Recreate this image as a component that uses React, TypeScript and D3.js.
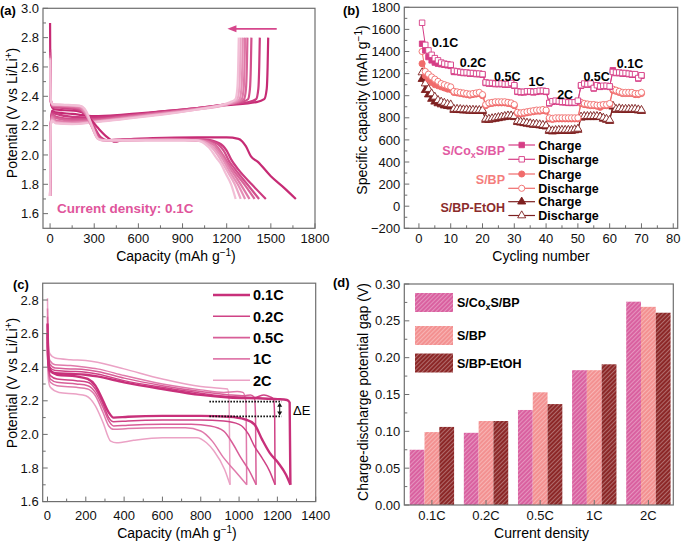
import React from "react";
import * as d3 from "d3";

const FONT = "'Liberation Sans', Arial, Helvetica, sans-serif";
const AXIS = "#6e6e6e";

// ---------- (a) galvanostatic profiles, cycles at 0.1C ----------
const aColors = ["#c62a74", "#cb3a7f", "#d24f8c", "#d86398", "#df79a7", "#e58fb6", "#eca7c6", "#f2bfd6"];
const aDischarge: number[][][] = [
  [[0, 2.9], [1, 2.7], [3, 2.45], [8, 2.34], [30, 2.31], [100, 2.305], [180, 2.3], [250, 2.27], [320, 2.19], [390, 2.12], [440, 2.09], [500, 2.105], [700, 2.115], [1000, 2.12], [1200, 2.12], [1280, 2.11], [1330, 2.06], [1365, 1.99], [1410, 1.955], [1500, 1.855], [1590, 1.776], [1670, 1.7]],
  [[0, 2.72], [2, 2.5], [6, 2.36], [20, 2.325], [100, 2.32], [180, 2.31], [240, 2.28], [300, 2.19], [345, 2.12], [390, 2.1], [500, 2.105], [800, 2.11], [1050, 2.105], [1150, 2.08], [1200, 2.03], [1230, 1.97], [1280, 1.9], [1370, 1.8], [1466, 1.7]],
  [[0, 2.7], [2, 2.5], [6, 2.36], [20, 2.33], [100, 2.325], [180, 2.315], [235, 2.285], [295, 2.19], [340, 2.115], [385, 2.1], [500, 2.105], [800, 2.11], [1040, 2.105], [1130, 2.08], [1185, 2.02], [1215, 1.96], [1260, 1.9], [1340, 1.8], [1420, 1.7]],
  [[0, 2.68], [2, 2.5], [6, 2.37], [20, 2.335], [100, 2.33], [190, 2.32], [235, 2.29], [290, 2.19], [335, 2.11], [380, 2.1], [500, 2.105], [800, 2.105], [1030, 2.1], [1120, 2.07], [1175, 2.0], [1205, 1.95], [1250, 1.89], [1320, 1.8], [1390, 1.7]],
  [[0, 2.67], [2, 2.5], [6, 2.37], [20, 2.34], [100, 2.335], [195, 2.325], [235, 2.29], [285, 2.19], [330, 2.11], [370, 2.1], [500, 2.1], [800, 2.105], [1020, 2.1], [1110, 2.07], [1165, 2.0], [1195, 1.95], [1235, 1.89], [1295, 1.8], [1355, 1.7]],
  [[0, 2.66], [2, 2.5], [6, 2.37], [20, 2.34], [100, 2.338], [200, 2.33], [240, 2.29], [285, 2.19], [328, 2.11], [365, 2.1], [500, 2.1], [800, 2.105], [1010, 2.1], [1100, 2.06], [1155, 2.0], [1185, 1.95], [1225, 1.88], [1275, 1.8], [1325, 1.7]],
  [[0, 2.66], [2, 2.5], [6, 2.37], [20, 2.345], [100, 2.34], [200, 2.335], [240, 2.3], [285, 2.19], [325, 2.11], [360, 2.1], [500, 2.1], [800, 2.1], [1000, 2.1], [1090, 2.06], [1145, 1.99], [1175, 1.94], [1210, 1.88], [1255, 1.8], [1295, 1.7]],
  [[0, 2.65], [2, 2.5], [6, 2.37], [20, 2.345], [100, 2.342], [205, 2.335], [245, 2.3], [285, 2.2], [325, 2.11], [355, 2.1], [500, 2.1], [800, 2.1], [990, 2.1], [1080, 2.05], [1130, 1.98], [1160, 1.94], [1195, 1.87], [1230, 1.8], [1261, 1.7]],
];
const aCharge: number[][][] = [
  [[0, 1.72], [2, 2.0], [5, 2.2], [12, 2.3], [40, 2.29], [150, 2.28], [300, 2.265], [500, 2.275], [800, 2.3], [1000, 2.32], [1200, 2.34], [1400, 2.36], [1455, 2.38], [1472, 2.45], [1478, 2.6], [1482, 2.8]],
  [[0, 1.72], [2, 2.0], [5, 2.2], [12, 2.29], [40, 2.28], [150, 2.26], [300, 2.255], [500, 2.27], [800, 2.3], [1000, 2.32], [1200, 2.345], [1350, 2.36], [1400, 2.38], [1415, 2.45], [1421, 2.6], [1425, 2.8]],
  [[0, 1.72], [2, 2.0], [5, 2.2], [12, 2.28], [40, 2.26], [150, 2.245], [300, 2.245], [500, 2.265], [800, 2.295], [1000, 2.32], [1200, 2.345], [1300, 2.36], [1345, 2.38], [1358, 2.45], [1364, 2.6], [1368, 2.8]],
  [[0, 1.72], [2, 2.0], [5, 2.2], [12, 2.27], [40, 2.25], [150, 2.235], [300, 2.238], [500, 2.26], [800, 2.29], [1000, 2.315], [1200, 2.345], [1280, 2.36], [1318, 2.38], [1331, 2.45], [1337, 2.6], [1341, 2.8]],
  [[0, 1.72], [2, 2.0], [5, 2.2], [12, 2.26], [40, 2.235], [150, 2.225], [300, 2.232], [500, 2.255], [800, 2.29], [1000, 2.315], [1200, 2.345], [1265, 2.36], [1302, 2.38], [1315, 2.45], [1321, 2.6], [1325, 2.8]],
  [[0, 1.72], [2, 2.0], [5, 2.2], [12, 2.25], [40, 2.225], [150, 2.218], [300, 2.228], [500, 2.25], [800, 2.285], [1000, 2.312], [1200, 2.345], [1250, 2.36], [1287, 2.38], [1300, 2.45], [1306, 2.6], [1310, 2.8]],
  [[0, 1.72], [2, 2.0], [5, 2.2], [12, 2.24], [40, 2.22], [150, 2.212], [300, 2.225], [500, 2.248], [800, 2.283], [1000, 2.31], [1200, 2.345], [1235, 2.36], [1272, 2.38], [1285, 2.45], [1291, 2.6], [1295, 2.8]],
  [[0, 1.72], [2, 2.0], [5, 2.2], [12, 2.235], [40, 2.215], [150, 2.21], [300, 2.222], [500, 2.245], [800, 2.28], [1000, 2.31], [1180, 2.345], [1222, 2.36], [1259, 2.38], [1272, 2.45], [1278, 2.6], [1282, 2.8]],
];
const aXTicks = [0, 300, 600, 900, 1200, 1500, 1800];
const aXMinor = [150, 450, 750, 1050, 1350, 1650];
const aYTicks = [1.6, 1.8, 2.0, 2.2, 2.4, 2.6, 2.8, 3.0];
const aYMinor = [1.7, 1.9, 2.1, 2.3, 2.5, 2.7, 2.9];

// ---------- (b) rate capability ----------
const bCoDis = [1660, 1460, 1410, 1370, 1340, 1320, 1300, 1290, 1285, 1280, 1225, 1220, 1215, 1210, 1210, 1205, 1205, 1200, 1200, 1195, 1120, 1115, 1115, 1110, 1110, 1110, 1105, 1105, 1115, 1095, 1040, 1035, 1035, 1040, 1040, 1035, 1040, 1045, 1045, 1040, 935, 950, 955, 950, 945, 945, 940, 940, 940, 955, 1095, 1110, 1105, 1110, 1070, 1095, 1085, 1090, 1090, 1085, 1215, 1210, 1210, 1205, 1205, 1200, 1195, 1195, 1160, 1185];
const bCoCha = [1470, 1410, 1350, 1320, 1300, 1290, 1285, 1280, 1275, 1270, 1215, 1215, 1210, 1205, 1205, 1200, 1200, 1195, 1195, 1190, 1115, 1110, 1110, 1105, 1105, 1105, 1100, 1100, 1105, 1090, 1035, 1030, 1030, 1035, 1035, 1030, 1035, 1040, 1040, 1035, 930, 945, 950, 945, 940, 940, 935, 935, 935, 950, 1090, 1105, 1100, 1105, 1065, 1090, 1080, 1085, 1085, 1080, 1230, 1205, 1205, 1200, 1200, 1195, 1190, 1190, 1155, 1180];
const bBpDis = [1400, 1220, 1195, 1170, 1150, 1130, 1110, 1100, 1090, 1080, 1040, 1035, 1030, 1025, 1020, 1015, 1020, 1025, 1030, 1010, 920, 935, 940, 945, 945, 945, 945, 940, 935, 920, 850, 845, 850, 855, 860, 865, 870, 870, 875, 870, 800, 795, 800, 800, 800, 800, 800, 800, 800, 800, 940, 930, 925, 920, 920, 915, 915, 920, 920, 930, 1060, 1050, 1040, 1030, 1030, 1030, 1030, 1020, 1020, 1030];
const bBpCha = [1290, 1180, 1150, 1120, 1100, 1090, 1080, 1070, 1060, 1055, 1030, 1025, 1020, 1015, 1010, 1005, 1010, 1015, 1020, 1000, 910, 925, 930, 935, 935, 935, 935, 930, 925, 910, 840, 835, 840, 845, 850, 855, 860, 860, 865, 860, 790, 785, 790, 790, 790, 790, 790, 790, 790, 790, 930, 920, 915, 910, 910, 905, 895, 910, 910, 920, 1050, 1040, 1030, 1020, 1020, 1020, 1020, 1010, 1010, 1020];
const bEtDis = [1210, 1110, 1060, 1020, 990, 960, 945, 935, 925, 920, 880, 880, 878, 875, 875, 872, 872, 870, 870, 870, 790, 790, 795, 800, 805, 810, 815, 820, 820, 815, 770, 765, 760, 755, 750, 745, 745, 740, 735, 730, 690, 685, 688, 690, 690, 690, 690, 690, 695, 700, 810, 815, 815, 815, 815, 815, 810, 800, 790, 780, 910, 880, 885, 880, 880, 880, 880, 880, 875, 870];
const bEtCha = [1150, 1050, 1010, 970, 945, 930, 920, 910, 905, 900, 870, 870, 868, 865, 865, 862, 862, 860, 860, 860, 780, 780, 785, 790, 795, 800, 805, 810, 810, 805, 760, 755, 750, 745, 740, 735, 735, 730, 725, 720, 680, 675, 678, 680, 680, 680, 680, 680, 685, 690, 800, 805, 805, 805, 805, 805, 810, 790, 780, 770, 900, 870, 875, 870, 870, 870, 870, 870, 865, 860];
const bRates = ["0.1C", "0.2C", "0.5C", "1C", "2C", "0.5C", "0.1C"];
const bRateAt = [[8.2, 1441], [17, 1260], [27.8, 1133], [37, 1088], [46, 966], [55.9, 1133], [66.4, 1250]];
const bXTicks = [0, 10, 20, 30, 40, 50, 60, 70, 80];
const bXMinor = [5, 15, 25, 35, 45, 55, 65, 75];
const bYTicks = [-200, 0, 200, 400, 600, 800, 1000, 1200, 1400, 1600, 1800];
const bYMinor = [-100, 100, 300, 500, 700, 900, 1100, 1300, 1500, 1700];

// ---------- (c) profiles at different rates ----------
const cRates = ["0.1C", "0.2C", "0.5C", "1C", "2C"];
const cColors = ["#c8307a", "#cf4286", "#d85e98", "#e07aab", "#eba2c5"];
const cDischarge: number[][][] = [
  [[0, 2.66], [4, 2.45], [15, 2.38], [50, 2.355], [150, 2.345], [210, 2.33], [250, 2.29], [290, 2.2], [320, 2.13], [345, 2.1], [420, 2.105], [600, 2.11], [800, 2.11], [950, 2.105], [1030, 2.09], [1080, 2.06], [1120, 1.97], [1160, 1.89], [1205, 1.83], [1245, 1.76], [1268, 1.7]],
  [[0, 2.58], [4, 2.42], [15, 2.35], [50, 2.33], [150, 2.32], [210, 2.31], [250, 2.27], [290, 2.18], [320, 2.1], [345, 2.075], [420, 2.08], [600, 2.085], [800, 2.085], [920, 2.08], [1000, 2.06], [1050, 2.0], [1080, 1.93], [1120, 1.86], [1160, 1.78], [1188, 1.7]],
  [[0, 2.55], [4, 2.4], [15, 2.33], [50, 2.31], [150, 2.3], [210, 2.29], [250, 2.25], [290, 2.16], [320, 2.08], [345, 2.05], [420, 2.055], [600, 2.06], [750, 2.06], [850, 2.05], [920, 2.02], [970, 1.94], [1010, 1.86], [1050, 1.79], [1089, 1.7]],
  [[0, 2.53], [4, 2.38], [15, 2.31], [50, 2.29], [150, 2.28], [210, 2.27], [250, 2.23], [290, 2.13], [320, 2.05], [345, 2.03], [420, 2.035], [600, 2.04], [720, 2.04], [800, 2.02], [860, 1.96], [920, 1.86], [980, 1.78], [1040, 1.7]],
  [[0, 2.5], [4, 2.33], [15, 2.28], [60, 2.25], [150, 2.24], [200, 2.23], [250, 2.17], [290, 2.07], [330, 1.96], [360, 1.95], [450, 1.965], [600, 1.98], [780, 1.98], [830, 1.95], [870, 1.9], [925, 1.79], [953, 1.7]],
];
const cCharge: number[][][] = [
  [[0, 2.6], [3, 2.45], [12, 2.38], [40, 2.365], [120, 2.36], [200, 2.355], [260, 2.345], [400, 2.31], [600, 2.27], [800, 2.235], [950, 2.22], [1100, 2.215], [1200, 2.21], [1250, 2.205], [1264, 2.19], [1268, 1.7]],
  [[0, 2.65], [3, 2.5], [12, 2.4], [40, 2.38], [120, 2.375], [200, 2.37], [260, 2.36], [400, 2.32], [600, 2.28], [800, 2.245], [950, 2.225], [1080, 2.22], [1130, 2.235], [1160, 2.225], [1180, 2.21], [1186, 2.1], [1188, 1.7]],
  [[0, 2.7], [3, 2.52], [12, 2.42], [40, 2.395], [120, 2.39], [200, 2.385], [260, 2.375], [400, 2.335], [600, 2.29], [800, 2.255], [950, 2.235], [1030, 2.23], [1060, 2.235], [1080, 2.22], [1086, 2.1], [1089, 1.7]],
  [[0, 2.75], [3, 2.55], [12, 2.44], [40, 2.415], [120, 2.41], [200, 2.4], [260, 2.39], [400, 2.35], [600, 2.3], [800, 2.265], [920, 2.25], [990, 2.255], [1020, 2.25], [1035, 2.2], [1038, 2.0], [1040, 1.7]],
  [[0, 2.81], [3, 2.6], [12, 2.48], [40, 2.455], [120, 2.445], [200, 2.44], [260, 2.43], [400, 2.39], [600, 2.33], [800, 2.285], [900, 2.275], [940, 2.27], [948, 2.2], [953, 1.7]],
];
const cDeltaE = [2.195, 2.107];
const cXTicks = [0, 200, 400, 600, 800, 1000, 1200, 1400];
const cXMinor = [100, 300, 500, 700, 900, 1100, 1300];
const cYTicks = [1.6, 1.8, 2.0, 2.2, 2.4, 2.6, 2.8];
const cYMinor = [1.7, 1.9, 2.1, 2.3, 2.5, 2.7];

// ---------- (d) potential gap ----------
const dCats = ["0.1C", "0.2C", "0.5C", "1C", "2C"];
const dCo = [0.075, 0.098, 0.129, 0.183, 0.276];
const dBp = [0.099, 0.114, 0.153, 0.183, 0.269];
const dEt = [0.106, 0.114, 0.137, 0.191, 0.261];
const dYTicks = [0, 0.05, 0.1, 0.15, 0.2, 0.25, 0.3];
const dYMinor = [0.025, 0.075, 0.125, 0.175, 0.225, 0.275];

const coColor = "#d63d86";
const bpColor = "#f06b6b";
const etColor = "#7e1f1f";

function Axes({ l, r, t, b, xPos, yPos, xt, xm, yt, ym, xf, yf, xDy }: any) {
  return (
    <g fontSize={13} fill="#111">
      {xm.map((v: any) => (
        <line key={"xm" + v} x1={xPos(v)} x2={xPos(v)} y1={b} y2={b - 3} stroke={AXIS} />
      ))}
      {xt.map((v: any) => (
        <g key={"xt" + v}>
          <line x1={xPos(v)} x2={xPos(v)} y1={b} y2={b - 5} stroke={AXIS} />
          <text x={xPos(v)} y={b + xDy} textAnchor="middle">{xf(v)}</text>
        </g>
      ))}
      {ym.map((v: any) => (
        <line key={"ym" + v} x1={l} x2={l + 3} y1={yPos(v)} y2={yPos(v)} stroke={AXIS} />
      ))}
      {yt.map((v: any) => (
        <g key={"yt" + v}>
          <line x1={l} x2={l + 5} y1={yPos(v)} y2={yPos(v)} stroke={AXIS} />
          <text x={l - 4} y={yPos(v) + 4.6} textAnchor="end">{yf(v)}</text>
        </g>
      ))}
      <rect x={l} y={t} width={r - l} height={b - t} fill="none" stroke={AXIS} strokeWidth={1.2} />
    </g>
  );
}

function PanelA() {
  const x = d3.scaleLinear().domain([-48, 1800]).range([43, 315]);
  const y = d3.scaleLinear().domain([1.5, 3.0]).range([228.3, 8.3]);
  const line = d3.line<number[]>().x((d) => x(d[0])).y((d) => y(d[1])).curve(d3.curveMonotoneX);
  const f1 = d3.format(".1f");
  return (
    <g>
      {aCharge.map((c, i) => (
        <path key={"c" + i} d={line(c) || ""} fill="none" stroke={aColors[i]} strokeWidth={2.2} />
      ))}
      {aDischarge.map((c, i) => (
        <path key={"d" + i} d={line(c) || ""} fill="none" stroke={aColors[i]} strokeWidth={2.2} />
      ))}
      <line x1={x(1540)} x2={x(1225)} y1={y(2.86)} y2={y(2.86)} stroke="#d6478c" strokeWidth={1.6} />
      <path d={`M${x(1205)},${y(2.86)} l9,-3.5 l0,7 z`} fill="#d6478c" />
      <text x={57} y={213} fontSize={13.5} fontWeight="bold" fill="#e0559c">Current density: 0.1C</text>
      <Axes l={43} r={315} t={8.3} b={228.3} xPos={x} yPos={y} xt={aXTicks} xm={aXMinor} yt={aYTicks} ym={aYMinor} xf={(v: number) => v} yf={f1} xDy={15} />
      <text x={176} y={261} fontSize={14} textAnchor="middle">Capacity (mAh g<tspan dy={-5} fontSize={10}>−1</tspan><tspan dy={5}>)</tspan></text>
      <text transform="translate(17,113) rotate(-90)" fontSize={14} textAnchor="middle">Potential (V vs Li/Li<tspan dy={-5} fontSize={10}>+</tspan><tspan dy={5}>)</tspan></text>
      <text x={0} y={15} fontSize={13} fontWeight="bold">(a)</text>
    </g>
  );
}

function PanelB() {
  const x = d3.scaleLinear().domain([-4.6, 81.4]).range([404.3, 677.7]);
  const y = d3.scaleLinear().domain([-200, 1800]).range([228.3, 7.3]);
  const line = d3.line<number>().x((_, i) => x(i + 1)).y((d) => y(d));
  const sq = d3.symbol(d3.symbolSquare, 30)();
  const ci = d3.symbol(d3.symbolCircle, 30)();
  const tr = d3.symbol(d3.symbolTriangle, 28)();
  const series = [
    { data: bEtCha, color: etColor, shape: tr, filled: true },
    { data: bEtDis, color: etColor, shape: tr, filled: false },
    { data: bBpCha, color: bpColor, shape: ci, filled: true },
    { data: bBpDis, color: bpColor, shape: ci, filled: false },
    { data: bCoCha, color: coColor, shape: sq, filled: true },
    { data: bCoDis, color: coColor, shape: sq, filled: false },
  ];
  const legend = [
    { label: "Charge", color: coColor, shape: sq, filled: true, y: 145 },
    { label: "Discharge", color: coColor, shape: sq, filled: false, y: 159.3 },
    { label: "Charge", color: bpColor, shape: ci, filled: true, y: 174 },
    { label: "Discharge", color: bpColor, shape: ci, filled: false, y: 188.3 },
    { label: "Charge", color: etColor, shape: tr, filled: true, y: 201.7 },
    { label: "Discharge", color: etColor, shape: tr, filled: false, y: 215.5 },
  ];
  return (
    <g>
      {series.map((s, k) => (
        <g key={k}>
          <path d={line(s.data) || ""} fill="none" stroke={s.color} strokeWidth={1} />
          {s.data.map((v, i) => (
            <path key={i} d={s.shape || ""} transform={`translate(${x(i + 1)},${y(v)})`} fill={s.filled ? s.color : "#fff"} stroke={s.color} strokeWidth={0.9} />
          ))}
        </g>
      ))}
      {bRates.map((r, i) => (
        <text key={i} x={x(bRateAt[i][0])} y={y(bRateAt[i][1])} fontSize={12.5} fontWeight="bold" textAnchor="middle">{r}</text>
      ))}
      {legend.map((g, i) => (
        <g key={i}>
          <line x1={508.3} x2={535} y1={g.y} y2={g.y} stroke={g.color} strokeWidth={1.2} />
          <path d={g.shape || ""} transform={`translate(521.7,${g.y})`} fill={g.filled ? g.color : "#fff"} stroke={g.color} strokeWidth={0.9} />
          <text x={538.3} y={g.y + 4.5} fontSize={12.5} fontWeight="bold">{g.label}</text>
        </g>
      ))}
      <g fontSize={12.5} fontWeight="bold" textAnchor="end">
        <text x={505} y={155} fill="#e25aa2">S/Co<tspan dy={3} fontSize={9}>x</tspan><tspan dy={-3}>S/BP</tspan></text>
        <text x={505} y={184} fill="#f47d7d">S/BP</text>
        <text x={505} y={212} fill="#8b2b2b">S/BP-EtOH</text>
      </g>
      <Axes l={404.3} r={677.7} t={7.3} b={228.3} xPos={x} yPos={y} xt={bXTicks} xm={bXMinor} yt={bYTicks} ym={bYMinor} xf={(v: number) => v} yf={d3.format("")} xDy={15} />
      <text x={541} y={261} fontSize={14} textAnchor="middle">Cycling number</text>
      <text transform="translate(367,110) rotate(-90)" fontSize={14} textAnchor="middle">Specific capacity (mAh g<tspan dy={-5} fontSize={10}>−1</tspan><tspan dy={5}>)</tspan></text>
      <text x={343} y={15} fontSize={13} fontWeight="bold">(b)</text>
    </g>
  );
}

function PanelC() {
  const x = d3.scaleLinear().domain([-25, 1400]).range([42.7, 315.7]);
  const y = d3.scaleLinear().domain([1.6, 2.9]).range([501.6, 283.2]);
  const line = d3.line<number[]>().x((d) => x(d[0])).y((d) => y(d[1])).curve(d3.curveMonotoneX);
  const f1 = d3.format(".1f");
  const order = [4, 3, 2, 1, 0];
  const ax = x(1212);
  return (
    <g>
      {order.map((i) => (
        <g key={i}>
          <path d={line(cDischarge[i]) || ""} fill="none" stroke={cColors[i]} strokeWidth={i === 0 ? 2.4 : 1.5} />
          <path d={line(cCharge[i]) || ""} fill="none" stroke={cColors[i]} strokeWidth={i === 0 ? 2.4 : 1.5} />
        </g>
      ))}
      {cDeltaE.map((v, i) => (
        <line key={i} x1={x(845)} x2={x(1222)} y1={y(v)} y2={y(v)} stroke="#111" strokeWidth={1.6} strokeDasharray="1.6,1.4" />
      ))}
      <line x1={ax} x2={ax} y1={y(cDeltaE[0]) + 2} y2={y(cDeltaE[1]) - 2} stroke="#111" strokeWidth={1} />
      <path d={`M${ax},${y(cDeltaE[0]) + 1} l-2.5,4 l5,0 z`} fill="#111" />
      <path d={`M${ax},${y(cDeltaE[1]) - 1} l-2.5,-4 l5,0 z`} fill="#111" />
      <text x={293} y={415} fontSize={13}>ΔE</text>
      {cRates.map((r, i) => (
        <g key={r}>
          <line x1={213} x2={250} y1={295 + i * 21.3} y2={295 + i * 21.3} stroke={cColors[i]} strokeWidth={i === 0 ? 2.6 : 1.6} />
          <text x={253} y={295 + i * 21.3 + 5.3} fontSize={14.5} fontWeight="bold">{r}</text>
        </g>
      ))}
      <Axes l={42.7} r={315.7} t={283.2} b={501.6} xPos={x} yPos={y} xt={cXTicks} xm={cXMinor} yt={cYTicks} ym={cYMinor} xf={(v: number) => v} yf={f1} xDy={18} />
      <text x={177} y={537.5} fontSize={14} textAnchor="middle">Capacity (mAh g<tspan dy={-5} fontSize={10}>−1</tspan><tspan dy={5}>)</tspan></text>
      <text transform="translate(17,383) rotate(-90)" fontSize={14} textAnchor="middle">Potential (V vs Li/Li<tspan dy={-5} fontSize={10}>+</tspan><tspan dy={5}>)</tspan></text>
      <text x={13} y={289} fontSize={13} fontWeight="bold">(c)</text>
    </g>
  );
}

function PanelD() {
  const x = d3.scaleBand().domain(dCats).range([404.3, 676]).paddingInner(0.18).paddingOuter(0.1);
  const y = d3.scaleLinear().domain([0, 0.3]).range([505, 284]);
  const groups = [
    { name: "co", data: dCo, color: "#d9609f" },
    { name: "bp", data: dBp, color: "#f39090" },
    { name: "et", data: dEt, color: "#8b2626" },
  ];
  const inner = d3.scaleBand().domain(groups.map((g) => g.name)).range([0, x.bandwidth()]);
  const mid = (c: string) => (x(c) || 0) + x.bandwidth() / 2;
  const legendY = [293, 326, 353.5];
  return (
    <g>
      <defs>
        {groups.map((g) => (
          <pattern key={g.name} id={"hatch-" + g.name} patternUnits="userSpaceOnUse" width={3} height={3} patternTransform="rotate(45)">
            <rect width={3} height={3} fill={g.color} />
            <line x1={0.5} y1={0} x2={0.5} y2={3} stroke="#fff" strokeOpacity={0.32} strokeWidth={1.1} />
          </pattern>
        ))}
      </defs>
      {groups.map((g) =>
        g.data.map((v, i) => (
          <rect key={g.name + i} x={(x(dCats[i]) || 0) + (inner(g.name) || 0)} y={y(v)} width={inner.bandwidth()} height={y(0) - y(v)} fill={`url(#hatch-${g.name})`} />
        ))
      )}
      {groups.map((g, i) => (
        <rect key={"lg" + i} x={415} y={legendY[i]} width={38} height={19} fill={`url(#hatch-${g.name})`} />
      ))}
      <g fontSize={12.5} fontWeight="bold">
        <text x={457} y={legendY[0] + 14}>S/Co<tspan dy={3} fontSize={9}>x</tspan><tspan dy={-3}>S/BP</tspan></text>
        <text x={457} y={legendY[1] + 14}>S/BP</text>
        <text x={457} y={legendY[2] + 14}>S/BP-EtOH</text>
      </g>
      <Axes l={404.3} r={673.3} t={284} b={505} xPos={mid} yPos={y} xt={dCats} xm={[]} yt={dYTicks} ym={dYMinor} xf={(v: string) => v} yf={d3.format(".2f")} xDy={15} />
      <text x={541.5} y={537.5} fontSize={14} textAnchor="middle">Current density</text>
      <text transform="translate(368,392) rotate(-90)" fontSize={14} textAnchor="middle">Charge-discharge potential gap (V)</text>
      <text x={333} y={287} fontSize={13} fontWeight="bold">(d)</text>
    </g>
  );
}

export default function App() {
  return (
    <svg width={685} height={543} style={{ position: "absolute", left: 0, top: 0, background: "#fff" }} fontFamily={FONT}>
      <rect width={685} height={543} fill="#fff" />
      <PanelA />
      <PanelB />
      <PanelC />
      <PanelD />
    </svg>
  );
}
